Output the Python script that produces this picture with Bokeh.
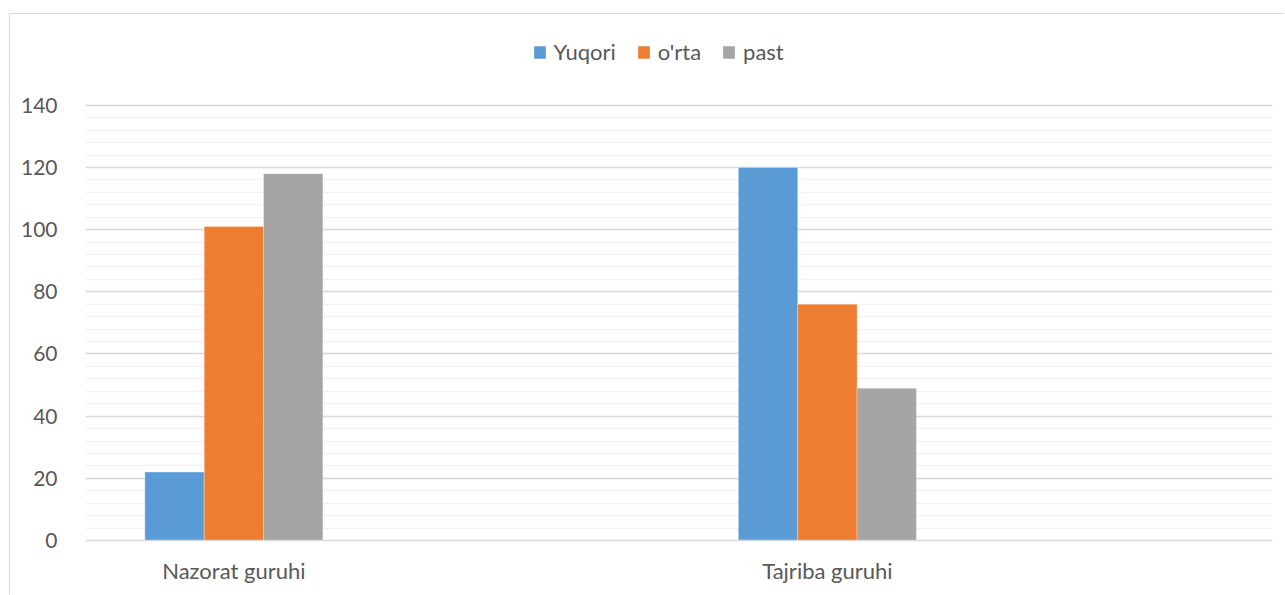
from bokeh.plotting import figure
from bokeh.models import Range1d, FixedTicker, Legend, LegendItem, ColumnDataSource
from bokeh.embed import file_html
from bokeh.resources import INLINE

# ---- data ----
categories = ["Nazorat guruhi", "", "Tajriba guruhi", ""]
series = ["Yuqori", "o'rta", "past"]
yuqori = [22, None, 120, None]
orta = [101, None, 76, None]
past = [118, None, 49, None]
colors = ["#5B9BD5", "#ED7D31", "#A5A5A5"]
y_ticks = [0, 20, 40, 60, 80, 100, 120, 140]

FONT = "Lato"
TXT = "#595959"

p = figure(width=1275, height=581, output_backend="svg", toolbar_location=None,
           x_range=Range1d(0, len(categories)), y_range=Range1d(0, 167.6),
           min_border_left=75, min_border_right=13, min_border_top=5, min_border_bottom=55)
p.styles = {"margin-left": "9px", "margin-top": "13px",
            "border-top": "1px solid #d9d9d9", "border-left": "1px solid #d9d9d9"}

p.outline_line_color = None
p.background_fill_color = "white"

centers = [i + 0.5 for i in range(len(categories))]
bw = 0.2
offsets = [-bw, 0, bw]
renderers = []
for vals, col, off in zip([yuqori, orta, past], colors, offsets):
    xs = [c + off for c, v in zip(centers, vals) if v is not None]
    ys = [v for v in vals if v is not None]
    src = ColumnDataSource(dict(x=xs, top=ys))
    r = p.vbar(x="x", top="top", bottom=0, width=bw, source=src,
               fill_color=col, line_color="white", line_width=0.6, line_alpha=0.5)
    renderers.append(r)

# axes
p.xaxis.ticker = FixedTicker(ticks=centers)
p.xaxis.major_label_overrides = {c: lab for c, lab in zip(centers, categories)}
p.xaxis.axis_line_color = "#d9d9d9"
p.xaxis.axis_line_width = 1.5
p.xaxis.major_tick_line_color = None
p.xaxis.minor_tick_line_color = None
p.xaxis.major_label_text_font = FONT
p.xaxis.major_label_text_font_size = "22px"
p.xaxis.major_label_text_color = TXT
p.xaxis.major_label_standoff = 10

p.yaxis.ticker = FixedTicker(ticks=y_ticks, minor_ticks=[i * 4 for i in range(36)])
p.yaxis.axis_line_color = None
p.yaxis.major_tick_line_color = None
p.yaxis.minor_tick_line_color = None
p.yaxis.major_label_text_font = FONT
p.yaxis.major_label_text_font_size = "21px"
p.yaxis.major_label_text_color = TXT
p.yaxis.major_label_standoff = 22

p.xgrid.grid_line_color = None
p.ygrid.grid_line_color = "#d9d9d9"
p.ygrid.grid_line_width = 1.5
p.ygrid.minor_grid_line_color = "#f2f2f2"
p.ygrid.minor_grid_line_width = 1.5

legend = Legend(items=[LegendItem(label=s, renderers=[r]) for s, r in zip(series, renderers)],
                orientation="horizontal", location=(446.5, 475),
                border_line_color=None, background_fill_alpha=0,
                label_text_font=FONT, label_text_font_size="22px", label_text_color=TXT,
                label_height=20, glyph_width=15, glyph_height=16, label_standoff=7, spacing=20,
                padding=0, margin=0)
p.add_layout(legend, "center")

open("out.html", "w").write(file_html(p, INLINE))
